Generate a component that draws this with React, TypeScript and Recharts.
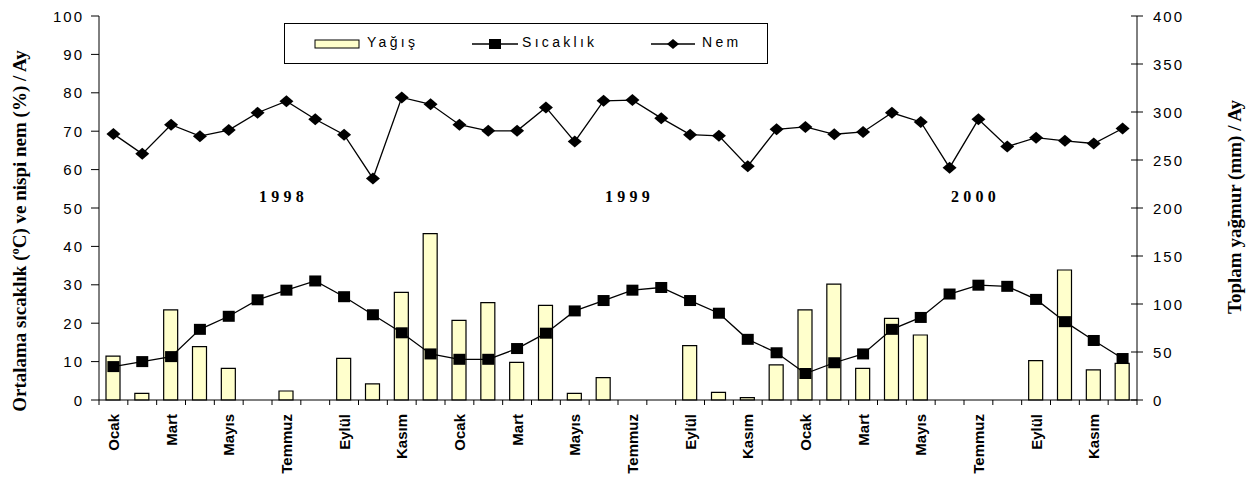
import React from "react";
import { Bar, ComposedChart, Legend, Line, XAxis, YAxis } from "recharts";

// months of one year, repeated for 1998-2000
const months = [
  "Ocak", "Şubat", "Mart", "Nisan", "Mayıs", "Haziran",
  "Temmuz", "Ağustos", "Eylül", "Ekim", "Kasım", "Aralık",
];
const years = ["1998", "1999", "2000"];

// Toplam yağmur (mm), right axis
const yagis = [
  45.8, 7, 93.8, 55.6, 33, 0, 9.4, 0, 43.4, 16.7, 112.2, 173.3,
  83, 101.4, 39.2, 98.6, 7, 23.3, 0, 0, 56.6, 8, 2.4, 36.5,
  93.8, 120.8, 33, 85, 67.7, 0, 0, 0, 41, 135.4, 31.3, 38.2,
];

// Ortalama sıcaklık (°C), left axis
const sicaklik = [
  8.7, 10, 11.3, 18.4, 21.8, 26.1, 28.6, 31, 26.9, 22.2, 17.5, 12,
  10.6, 10.6, 13.4, 17.4, 23.2, 25.9, 28.6, 29.3, 25.9, 22.6, 15.8, 12.3,
  6.9, 9.7, 12, 18.4, 21.5, 27.6, 29.9, 29.6, 26.2, 20.4, 15.5, 10.8,
];

// Nispi nem (%), left axis
const nem = [
  69.3, 64.1, 71.7, 68.7, 70.3, 74.8, 77.8, 73.1, 69.1, 57.7, 78.8, 77,
  71.7, 70.1, 70.1, 76.2, 67.3, 77.9, 78.1, 73.4, 69.1, 68.8, 60.9, 70.5,
  71.1, 69.2, 69.8, 74.8, 72.4, 60.5, 73.1, 66, 68.3, 67.5, 66.8, 70.7,
];

const leftTicks = [0, 10, 20, 30, 40, 50, 60, 70, 80, 90, 100];
const rightTicks = [0, 50, 100, 150, 200, 250, 300, 350, 400];

const data = yagis.map((v, i) => ({
  idx: i,
  yagis: v,
  sicaklik: sicaklik[i],
  nem: nem[i],
}));

const W = 1253;
const H = 481;
const MARGIN = { top: 16, right: 56, bottom: 11, left: 39 };
const LEFT_W = 60;
const RIGHT_W = 60;
const X_H = 70;
const PLOT_LEFT = MARGIN.left + LEFT_W;
const PLOT_RIGHT = W - MARGIN.right - RIGHT_W;
const BAND = (PLOT_RIGHT - PLOT_LEFT) / data.length;

const SANS = "'Liberation Sans', Arial, sans-serif";
const SERIF = "'Liberation Serif', 'Times New Roman', serif";

function MonthTick(props: any) {
  const { x, y, payload } = props;
  const i = Number(payload.value);
  const axisY = y - 5;
  const left = x - BAND / 2;
  const ty = axisY + 14;
  return (
    <g>
      <line x1={left} x2={left} y1={axisY} y2={axisY + 5} stroke="#000" />
      {i === data.length - 1 && (
        <line x1={x + BAND / 2} x2={x + BAND / 2} y1={axisY} y2={axisY + 5} stroke="#000" />
      )}
      {i % 2 === 0 && (
        <text
          x={x}
          y={ty}
          transform={`rotate(-90 ${x} ${ty})`}
          textAnchor="end"
          dominantBaseline="central"
          fontFamily={SANS}
          fontWeight="bold"
          fontSize={15}
          fill="#000"
        >
          {months[i % 12]}
        </text>
      )}
    </g>
  );
}

function LeftTick(props: any) {
  const { x, y, payload } = props;
  return (
    <text
      x={x}
      y={y}
      textAnchor="end"
      dominantBaseline="central"
      fontFamily={SANS}
      fontSize={15}
      fill="#000"
      style={{ letterSpacing: "2px" }}
    >
      {payload.value}
    </text>
  );
}

function RightTick(props: any) {
  const { x, y, payload } = props;
  const axisX = x - 6 - 10;
  return (
    <g>
      <line x1={axisX - 6} x2={axisX} y1={y} y2={y} stroke="#000" />
      <text
        x={x}
        y={y}
        textAnchor="start"
        dominantBaseline="central"
        fontFamily={SANS}
        fontSize={15}
        fill="#000"
        style={{ letterSpacing: "2px" }}
      >
        {payload.value}
      </text>
    </g>
  );
}

function SquareDot(props: any) {
  const { cx, cy, index } = props;
  return <rect key={`s${index}`} x={cx - 6} y={cy - 5.5} width={12} height={11} fill="#000" />;
}

function DiamondDot(props: any) {
  const { cx, cy, index } = props;
  return (
    <polygon
      key={`d${index}`}
      points={`${cx},${cy - 6} ${cx + 7},${cy} ${cx},${cy + 6} ${cx - 7},${cy}`}
      fill="#000"
    />
  );
}

const legendText = {
  fontFamily: SANS,
  fontSize: 14,
  letterSpacing: "3.3px",
  color: "#000",
};

function LegendBox() {
  return (
    <div
      style={{
        boxSizing: "border-box",
        width: "100%",
        height: "100%",
        border: "1px solid #000",
        background: "#fff",
        position: "relative",
      }}
    >
      <svg width={46} height={12} style={{ position: "absolute", left: 29, top: 14 }}>
        <rect x={1} y={2} width={44} height={8} fill="#FFFFCC" stroke="#000" />
      </svg>
      <span style={{ ...legendText, position: "absolute", left: 82, top: 10 }}>Yağış</span>
      <svg width={46} height={14} style={{ position: "absolute", left: 187, top: 13 }}>
        <line x1={0} x2={46} y1={7} y2={7} stroke="#000" strokeWidth={1.3} />
        <rect x={17} y={2} width={12} height={10} fill="#000" />
      </svg>
      <span style={{ ...legendText, position: "absolute", left: 237, top: 10 }}>Sıcaklık</span>
      <svg width={46} height={14} style={{ position: "absolute", left: 366, top: 13 }}>
        <line x1={0} x2={44} y1={7} y2={7} stroke="#000" strokeWidth={1.3} />
        <polygon points="22,2 28,7 22,12 16,7" fill="#000" />
      </svg>
      <span style={{ ...legendText, position: "absolute", left: 417, top: 10 }}>Nem</span>
    </div>
  );
}

export default function App() {
  return (
    <div style={{ position: "absolute", left: 0, top: 0, width: W, height: H, background: "#fff" }}>
      <ComposedChart width={W} height={H} data={data} margin={MARGIN}>
        <XAxis
          dataKey="idx"
          interval={0}
          tickLine={false}
          tickSize={5}
          tickMargin={0}
          height={X_H}
          axisLine={{ stroke: "#000" }}
          tick={MonthTick}
        />
        <YAxis
          yAxisId="left"
          domain={[0, 100]}
          ticks={leftTicks}
          interval={0}
          width={LEFT_W}
          tickSize={8}
          tickMargin={7}
          axisLine={{ stroke: "#000" }}
          tickLine={{ stroke: "#000" }}
          tick={LeftTick}
        />
        <YAxis
          yAxisId="right"
          orientation="right"
          domain={[0, 400]}
          ticks={rightTicks}
          interval={0}
          width={RIGHT_W}
          tickSize={6}
          tickMargin={10}
          axisLine={{ stroke: "#000" }}
          tickLine={{ stroke: "#000" }}
          tick={RightTick}
        />
        <Legend
          layout="horizontal"
          verticalAlign="middle"
          align="center"
          content={LegendBox}
          wrapperStyle={{ position: "absolute", left: 284, top: 23, width: 484, height: 41 }}
        />
        <Bar
          yAxisId="right"
          dataKey="yagis"
          name="Yağış"
          fill="#FFFFCC"
          stroke="#000"
          strokeWidth={1.2}
          barSize={14}
          isAnimationActive={false}
        />
        <Line
          yAxisId="left"
          dataKey="sicaklik"
          name="Sıcaklık"
          stroke="#000"
          strokeWidth={1.3}
          dot={SquareDot}
          activeDot={false}
          isAnimationActive={false}
        />
        <Line
          yAxisId="left"
          dataKey="nem"
          name="Nem"
          stroke="#000"
          strokeWidth={1.3}
          dot={DiamondDot}
          activeDot={false}
          isAnimationActive={false}
        />
      </ComposedChart>
      <svg
        width={W}
        height={H}
        style={{ position: "absolute", left: 0, top: 0, pointerEvents: "none" }}
      >
        {years.map((yr, k) => (
          <text
            key={yr}
            x={PLOT_LEFT + (12 * k + 6.4) * BAND}
            y={196}
            textAnchor="middle"
            dominantBaseline="central"
            fontFamily={SERIF}
            fontWeight="bold"
            fontSize={16}
            style={{ letterSpacing: "4.3px" }}
            fill="#000"
          >
            {yr}
          </text>
        ))}
        <text
          x={19}
          y={231}
          transform="rotate(-90 19 231)"
          textAnchor="middle"
          dominantBaseline="central"
          fontFamily={SERIF}
          fontWeight="bold"
          fontSize={19}
          fill="#000"
        >
          Ortalama sıcaklık (ºC) ve nispi nem (%) / Ay
        </text>
        <text
          x={1234}
          y={207}
          transform="rotate(-90 1234 207)"
          textAnchor="middle"
          dominantBaseline="central"
          fontFamily={SERIF}
          fontWeight="bold"
          fontSize={19}
          fill="#000"
        >
          Toplam yağmur (mm) / Ay
        </text>
      </svg>
    </div>
  );
}
